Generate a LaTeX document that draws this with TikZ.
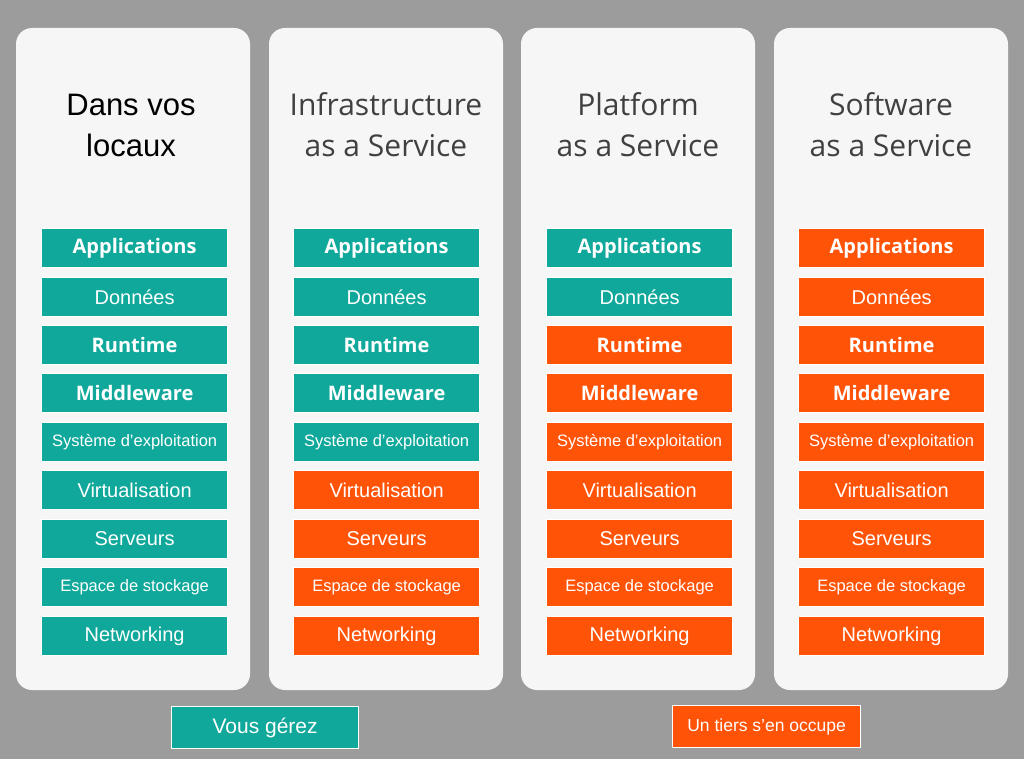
\documentclass[tikz,border=0pt]{standalone}
\usepackage{fontspec}
\setmainfont{Liberation Sans}
\newfontfamily\osans{Open Sans}
\definecolor{bg}{HTML}{9C9C9C}
\definecolor{teal}{HTML}{10A89A}
\definecolor{orng}{HTML}{FF5308}
\definecolor{colw}{HTML}{F6F6F6}
\begin{document}
\begin{tikzpicture}[x=1pt,y=-1pt,
  col/.style={fill=colw,rounded corners=16pt},
  cell/.style={draw=white,line width=1.2pt,minimum width=186pt,minimum height=39pt,inner sep=0pt,text=white,font=\fontsize{20}{22}\selectfont,anchor=north west},
  tc/.style={cell,fill=teal},
  oc/.style={cell,fill=orng},
  os/.style={font=\osans\bfseries\fontsize{20}{22}\selectfont},
  small/.style={font=\fontsize{16.5}{18}\selectfont},
  head/.style={font=\osans\fontsize{30}{41}\selectfont,text=black!75,align=center}]
\fill[bg] (0,0) rectangle (1024,759);
\useasboundingbox (0,0) rectangle (1024,759);
\foreach \x [count=\i] in {16,269,521,774} {
  \fill[col] (\x,28) rectangle ++(234,662);
}
\node[font=\fontsize{31}{41}\selectfont,align=center] (h1) at (131,125) {Dans vos\\locaux};
\node[head] (h2) at (386,125) {Infrastructure\\as a Service};
\node[head] (h3) at (638,125) {Platform\\as a Service};
\node[head] (h4) at (891,125) {Software\\as a Service};
\def\ys{{228,277,325,373,422,470,519,567,616}}
\foreach \x/\c/\k in {41/1/9,293/2/5,546/3/2,798/4/0} {
  \foreach \lab/\st [count=\j from 0] in {Applications/os,Données/{},Runtime/os,Middleware/os,Système d'exploitation/small,Virtualisation/{},Serveurs/{},Espace de stockage/small,Networking/{}} {
    \pgfmathsetmacro\yy{\ys[\j]}
    \ifnum\j<\k
      \node[tc,\st] (b\c-\j) at (\x,\yy) {\lab};
    \else
      \node[oc,\st] (b\c-\j) at (\x,\yy) {\lab};
    \fi
  }
}
\node[tc,minimum width=187pt,minimum height=42pt,anchor=north west,font=\fontsize{21}{22}\selectfont] (l1) at (171,706) {Vous gérez};
\node[oc,minimum width=188pt,minimum height=42pt,anchor=north west,font=\fontsize{17.5}{20}\selectfont] (l2) at (672,705) {Un tiers s'en occupe};
\end{tikzpicture}
\end{document}
